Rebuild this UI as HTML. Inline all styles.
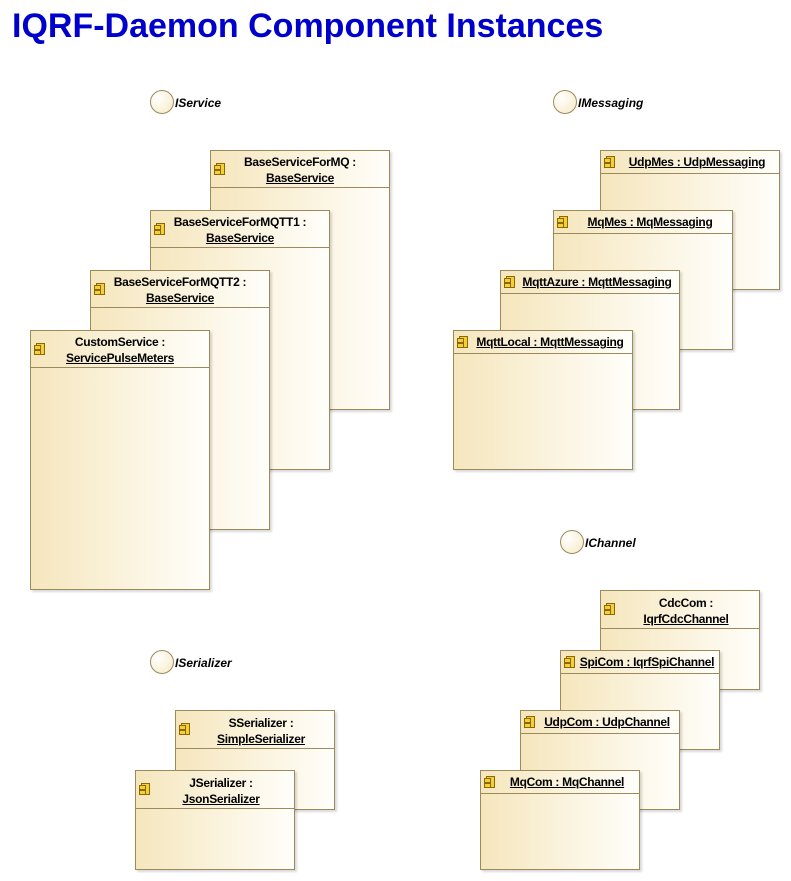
<!DOCTYPE html>
<html><head><style>
body{margin:0;width:791px;height:881px;background:#fff;position:relative;font-family:"Liberation Sans",Arial,sans-serif;overflow:hidden}
.t{position:absolute;left:12px;top:7px;font-size:34px;font-weight:bold;color:#0000cc;white-space:nowrap}
.b{position:absolute;border:1px solid #9c8a5c;background:linear-gradient(to right,#f5e6bd,#fffefa);box-shadow:2px 2px 2px rgba(0,0,0,.15);box-sizing:border-box}
.h{border-bottom:1px solid #9c8a5c;box-sizing:border-box;font-size:12px;font-weight:bold;text-align:center;color:#000;position:relative;line-height:16px;letter-spacing:-0.3px}
.h u{text-decoration:underline}
.ic{position:absolute;left:3px;width:9px;height:12px;border:1px solid #8a6a00;background:#f5cf3a;box-sizing:border-box}
.ic:before,.ic:after{content:"";position:absolute;left:-3px;width:5px;height:3px;border:1px solid #8a6a00;background:#f5cf3a}
.ic:before{top:1px}.ic:after{top:6px}
.c{position:absolute;width:24px;height:24px;border-radius:50%;border:1px solid #9c8a5c;background:radial-gradient(circle at 30% 30%,#fff,#f7e9c4);box-sizing:border-box}
.l{position:absolute;font-size:12px;font-weight:bold;font-style:italic}
</style></head><body>
<div class="t">IQRF-Daemon Component Instances</div>

<div class="c" style="left:150px;top:90px"></div><div class="l" style="left:175px;top:96px">IService</div>
<div class="c" style="left:553px;top:90px"></div><div class="l" style="left:578px;top:96px">IMessaging</div>
<div class="c" style="left:560px;top:530px"></div><div class="l" style="left:585px;top:536px">IChannel</div>
<div class="c" style="left:150px;top:650px"></div><div class="l" style="left:175px;top:656px">ISerializer</div>

<div class="b" style="left:210px;top:150px;width:180px;height:260px"><div class="h" style="height:37px;padding-top:3px"><span class="ic" style="left:5px;top:12px"></span>BaseServiceForMQ :<br><u>BaseService</u></div></div>
<div class="b" style="left:150px;top:210px;width:180px;height:260px"><div class="h" style="height:37px;padding-top:3px"><span class="ic" style="left:5px;top:12px"></span>BaseServiceForMQTT1 :<br><u>BaseService</u></div></div>
<div class="b" style="left:90px;top:270px;width:180px;height:260px"><div class="h" style="height:37px;padding-top:3px"><span class="ic" style="left:5px;top:12px"></span>BaseServiceForMQTT2 :<br><u>BaseService</u></div></div>
<div class="b" style="left:30px;top:330px;width:180px;height:260px"><div class="h" style="height:37px;padding-top:3px"><span class="ic" style="left:5px;top:12px"></span>CustomService :<br><u>ServicePulseMeters</u></div></div>

<div class="b" style="left:600px;top:150px;width:180px;height:140px"><div class="h" style="height:23px;padding-top:3px;padding-left:14px"><span class="ic" style="left:5px;top:5px"></span><u>UdpMes : UdpMessaging</u></div></div>
<div class="b" style="left:553px;top:210px;width:180px;height:140px"><div class="h" style="height:23px;padding-top:3px;padding-left:14px"><span class="ic" style="left:5px;top:5px"></span><u>MqMes : MqMessaging</u></div></div>
<div class="b" style="left:500px;top:270px;width:180px;height:140px"><div class="h" style="height:23px;padding-top:3px;padding-left:14px"><span class="ic" style="left:5px;top:5px"></span><u>MqttAzure : MqttMessaging</u></div></div>
<div class="b" style="left:453px;top:330px;width:180px;height:140px"><div class="h" style="height:23px;padding-top:3px;padding-left:14px"><span class="ic" style="left:5px;top:5px"></span><u>MqttLocal : MqttMessaging</u></div></div>

<div class="b" style="left:600px;top:590px;width:160px;height:100px"><div class="h" style="height:38px;padding-top:4px;padding-left:12px"><span class="ic" style="left:5px;top:12px"></span>CdcCom :<br><u>IqrfCdcChannel</u></div></div>
<div class="b" style="left:560px;top:650px;width:160px;height:100px"><div class="h" style="height:23px;padding-top:3px;padding-left:14px"><span class="ic" style="left:5px;top:5px"></span><u>SpiCom : IqrfSpiChannel</u></div></div>
<div class="b" style="left:520px;top:710px;width:160px;height:100px"><div class="h" style="height:23px;padding-top:3px;padding-left:14px"><span class="ic" style="left:5px;top:5px"></span><u>UdpCom : UdpChannel</u></div></div>
<div class="b" style="left:480px;top:770px;width:160px;height:100px"><div class="h" style="height:23px;padding-top:3px;padding-left:14px"><span class="ic" style="left:5px;top:5px"></span><u>MqCom : MqChannel</u></div></div>

<div class="b" style="left:175px;top:710px;width:160px;height:100px"><div class="h" style="height:38px;padding-top:4px;padding-left:12px"><span class="ic" style="left:5px;top:12px"></span>SSerializer :<br><u>SimpleSerializer</u></div></div>
<div class="b" style="left:135px;top:770px;width:160px;height:100px"><div class="h" style="height:38px;padding-top:4px;padding-left:12px"><span class="ic" style="left:5px;top:12px"></span>JSerializer :<br><u>JsonSerializer</u></div></div>
</body></html>
